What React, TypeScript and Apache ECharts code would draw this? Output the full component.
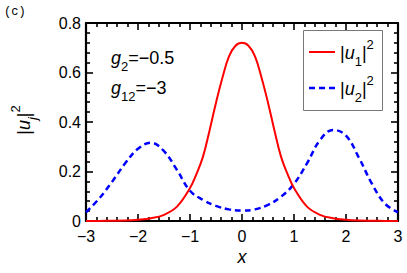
import React, { useEffect, useRef } from "react";
import * as echarts from "echarts";

const redX = [-3, -2.75, -2.5, -2.25, -2, -1.75, -1.5, -1.25, -1, -0.875, -0.75, -0.625, -0.5, -0.375, -0.25, -0.125, 0,
  0.125, 0.25, 0.375, 0.5, 0.625, 0.75, 0.875, 1, 1.25, 1.5, 1.75, 2, 2.25, 2.5, 2.75, 3];
const redY = [0.0002, 0.0004, 0.001, 0.002, 0.005, 0.011, 0.025, 0.058, 0.133, 0.19, 0.26, 0.365, 0.478, 0.58, 0.665, 0.708, 0.72,
  0.708, 0.665, 0.58, 0.478, 0.365, 0.26, 0.19, 0.133, 0.058, 0.025, 0.011, 0.005, 0.002, 0.001, 0.0004, 0.0002];

const blueX = [-3, -2.75, -2.5, -2.25, -2, -1.75, -1.5, -1.25, -1, -0.75, -0.5, -0.25, 0,
  0.25, 0.5, 0.75, 1, 1.25, 1.5, 1.75, 2, 2.25, 2.5, 2.75, 3];
const blueY = [0.035, 0.09, 0.158, 0.232, 0.292, 0.316, 0.282, 0.206, 0.122, 0.085, 0.061, 0.047, 0.042,
  0.047, 0.065, 0.098, 0.15, 0.233, 0.327, 0.368, 0.345, 0.255, 0.15, 0.07, 0.035];

const xTicks = { min: -3, max: 3, interval: 1 };
const yTicks = { min: 0, max: 0.8, interval: 0.2 };

const FONT = "'Liberation Sans', Arial, Helvetica, sans-serif";

const rich = {
  b: { fontSize: 18, fontFamily: FONT, lineHeight: 30, verticalAlign: "middle", fill: "#000", color: "#000" },
  i: { fontSize: 18, fontFamily: FONT, fontStyle: "italic", lineHeight: 30, verticalAlign: "middle", fill: "#000", color: "#000" },
  sub: { fontSize: 13, fontFamily: FONT, lineHeight: 13, verticalAlign: "bottom", fill: "#000", color: "#000" },
  subi: { fontSize: 13, fontFamily: FONT, fontStyle: "italic", lineHeight: 13, verticalAlign: "bottom", fill: "#000", color: "#000" },
  sup: { fontSize: 13, fontFamily: FONT, lineHeight: 13, verticalAlign: "top", fill: "#000", color: "#000" },
};

export default function App() {
  const ref = useRef<HTMLDivElement>(null);
  useEffect(() => {
    if (!ref.current) return;
    const chart = echarts.init(ref.current, null, { renderer: "svg" });
    const axisCommon = {
      axisLine: { show: true, onZero: false, lineStyle: { color: "#000", width: 2.2 } },
      axisTick: { show: true, inside: true, length: 7, lineStyle: { color: "#000", width: 1.6 } },
      minorTick: { show: true, splitNumber: 5, length: 4, lineStyle: { color: "#000", width: 1.6 } },
      splitLine: { show: false },
      minorSplitLine: { show: false },
    };
    const fmt = (v: number, dec: number) => {
      const s = v === 0 ? "0" : v.toFixed(dec);
      return s.replace("-", "\u2212");
    };
    chart.setOption({
      animation: false,
      grid: { left: 86, right: 9, top: 23, bottom: 52, containLabel: false, outerBoundsMode: "none" },
      xAxis: [
        {
          type: "value", position: "bottom", ...xTicks, ...axisCommon,
          axisLabel: { show: true, margin: 7, color: "#000", fontSize: 16, fontFamily: FONT, formatter: (v: number) => fmt(v, 0) },
        },
        {
          type: "value", position: "top", ...xTicks, ...axisCommon,
          axisLabel: { show: false },
        },
      ],
      yAxis: [
        {
          type: "value", position: "left", ...yTicks, ...axisCommon,
          axisLabel: { show: true, margin: 5, color: "#000", fontSize: 16, fontFamily: FONT, formatter: (v: number) => fmt(v, 1) },
        },
        {
          type: "value", position: "right", ...yTicks, ...axisCommon,
          axisLabel: { show: false },
        },
      ],
      series: [
        {
          name: "|u1|^2", type: "line", xAxisIndex: 0, yAxisIndex: 0,
          data: redX.map((x, k) => [x, redY[k]]),
          smooth: 0.4, symbol: "none", z: 3,
          lineStyle: { color: "#ff0000", width: 2 },
        },
        {
          name: "|u2|^2", type: "line", xAxisIndex: 0, yAxisIndex: 0,
          data: blueX.map((x, k) => [x, blueY[k]]),
          smooth: 0.4, symbol: "none", z: 2,
          lineStyle: { color: "#0000ff", width: 2.5, type: [6, 4] },
        },
      ],
      graphic: [
        { type: "text", x: 4, y: 12, style: { text: "(c)", fontSize: 12, fontFamily: "'Liberation Mono', monospace", fill: "#000", verticalAlign: "middle", align: "left" } },
        { type: "text", x: 242, y: 257, style: { text: "x", fontSize: 18, fontStyle: "italic", fontFamily: FONT, fill: "#000", align: "center", verticalAlign: "middle" } },
        {
          type: "text", x: 24, y: 120, rotation: Math.PI / 2,
          style: { text: "{b||}{i|u}{subi|j}{b||}{sup|2}", rich, align: "center", verticalAlign: "middle" },
        },
        { type: "text", x: 111, y: 58, style: { text: "{i|g}{sub|2}{b|=\u22120.5}", rich, align: "left", verticalAlign: "middle" } },
        { type: "text", x: 111, y: 88, style: { text: "{i|g}{sub|12}{b|=\u22123}", rich, align: "left", verticalAlign: "middle" } },
        { type: "rect", shape: { x: 303.5, y: 30.5, width: 79, height: 80 }, style: { fill: "#fff", stroke: "#777", lineWidth: 1 }, z: 10 },
        { type: "line", shape: { x1: 309, y1: 52, x2: 335, y2: 52 }, style: { stroke: "#ff0000", lineWidth: 2 }, z: 11 },
        { type: "line", shape: { x1: 309, y1: 88, x2: 335, y2: 88 }, style: { stroke: "#0000ff", lineWidth: 2.5, lineDash: [6, 4] }, z: 11 },
        { type: "text", x: 340, y: 53, z: 11, style: { text: "{b||}{i|u}{sub|1}{b||}{sup|2}", rich, align: "left", verticalAlign: "middle" } },
        { type: "text", x: 340, y: 89, z: 11, style: { text: "{b||}{i|u}{sub|2}{b||}{sup|2}", rich, align: "left", verticalAlign: "middle" } },
      ],
    });
    return () => chart.dispose();
  }, []);
  return <div ref={ref} style={{ position: "fixed", left: 0, top: 0, width: 407, height: 273, background: "#fff" }} />;
}
